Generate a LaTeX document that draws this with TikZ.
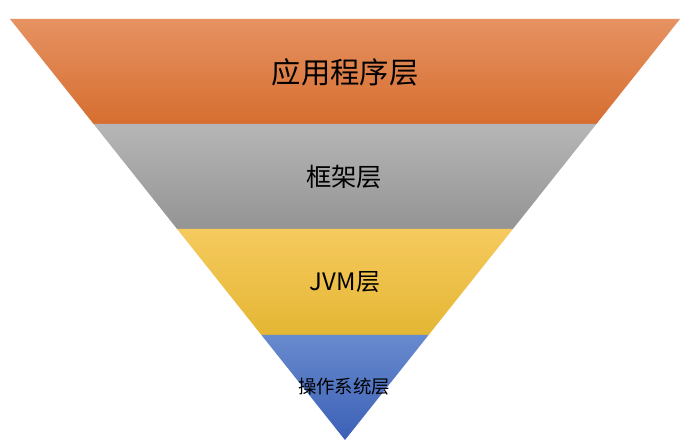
\documentclass[tikz,border=0pt]{standalone}
\usepackage{fontspec}
\newfontfamily\cjk{Noto Sans CJK SC}
\usetikzlibrary{positioning}
\definecolor{appTop}{RGB}{230,146,98}
\definecolor{appBot}{RGB}{214,110,48}
\definecolor{fwTop}{RGB}{182,182,182}
\definecolor{fwBot}{RGB}{148,148,148}
\definecolor{jvmTop}{RGB}{246,202,94}
\definecolor{jvmBot}{RGB}{228,182,52}
\definecolor{osTop}{RGB}{104,138,206}
\definecolor{osBot}{RGB}{60,96,182}

\begin{document}
\begin{tikzpicture}[
      x=0.75pt, y=-0.75pt,
      band/.style={draw=none},
      lbl/.style={font=\cjk, text=black, inner sep=0pt}
    ]
      \useasboundingbox (0,0) rectangle (693,445);
      % layers, top to bottom
      \path[band, top color=appTop, bottom color=appBot]
        (10,19) -- (680,19) -- (596.4,124) -- (93.6,124) -- cycle;
      \path[band, top color=fwTop, bottom color=fwBot]
        (93.6,124) -- (596.4,124) -- (512.9,229) -- (177.1,229) -- cycle;
      \path[band, top color=jvmTop, bottom color=jvmBot]
        (177.1,229) -- (512.9,229) -- (428.6,335) -- (261.4,335) -- cycle;
      \path[band, top color=osTop, bottom color=osBot]
        (261.4,335) -- (428.6,335) -- (345,440) -- cycle;

      \node[lbl, font=\cjk\fontsize{22}{24}\selectfont] (app) at (345,72) {应用程序层};
      \node[lbl, font=\cjk\fontsize{19}{21}\selectfont] (fw) at (344,177) {框架层};
      \node[lbl, font=\cjk\fontsize{18}{20}\selectfont] (jvm) at (345,282) {JVM层};
      \node[lbl, font=\cjk\fontsize{13.8}{16}\selectfont] (os) at (344,387) {操作系统层};
    \end{tikzpicture}
\end{document}
